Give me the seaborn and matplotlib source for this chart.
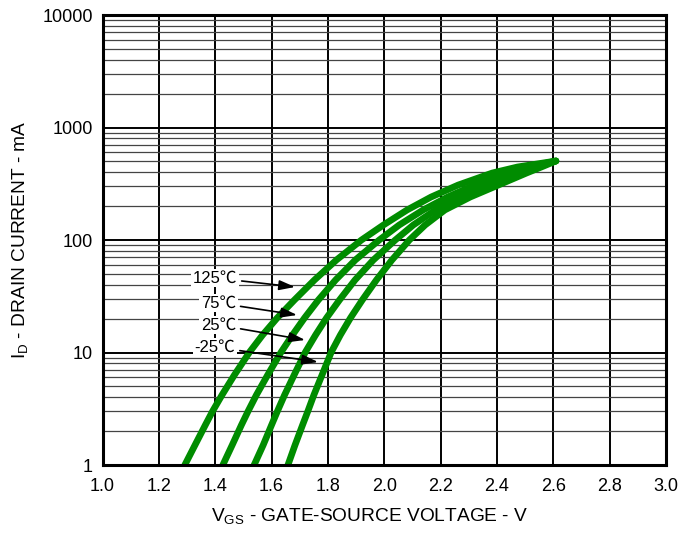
import numpy as np
import pandas as pd
import matplotlib
matplotlib.use("Agg")
import matplotlib.pyplot as plt
import seaborn as sns
from matplotlib.ticker import FixedLocator, LogLocator, NullFormatter

# ---- data ----
temps = ["125℃", "75℃", "25℃", "-25℃"]
id_ma = [1, 1.5, 2.27, 3.02, 4.19, 6.31, 10.1, 14.3, 20.3, 29.3, 44.1, 66.4, 100, 136, 185, 241, 308, 394, 446, 504]
vgs_125 = [1.292, 1.328, 1.365, 1.391, 1.424, 1.468, 1.522, 1.568, 1.620, 1.681, 1.752, 1.830, 1.919,
           1.997, 2.081, 2.166, 2.262, 2.383, 2.473, 2.609]
vgs_75 = [1.427, 1.460, 1.493, 1.517, 1.546, 1.586, 1.634, 1.674, 1.717, 1.766, 1.827, 1.897, 1.982,
          2.053, 2.138, 2.225, 2.320, 2.430, 2.510, 2.609]
vgs_25 = [1.538, 1.570, 1.600, 1.621, 1.646, 1.680, 1.720, 1.756, 1.795, 1.841, 1.896, 1.961, 2.039,
          2.103, 2.182, 2.265, 2.358, 2.462, 2.532, 2.609]
vgs_m25 = [1.658, 1.683, 1.710, 1.729, 1.750, 1.779, 1.812, 1.844, 1.880, 1.922, 1.972, 2.027, 2.089,
           2.145, 2.215, 2.305, 2.405, 2.505, 2.558, 2.609]
x_ticks = [1.0, 1.2, 1.4, 1.6, 1.8, 2.0, 2.2, 2.4, 2.6, 2.8, 3.0]
x_tick_labels = ["1.0", "1.2", "1.4", "1.6", "1.8", "2.0", "2.2", "2.4", "2.6", "2.8", "3.0"]
y_ticks = [1, 10, 100, 1000, 10000]
y_tick_labels = ["1", "10", "100", "1000", "10000"]

series = [vgs_125, vgs_75, vgs_25, vgs_m25]
df = pd.concat(
    [pd.DataFrame({"vgs": v, "id": id_ma, "temp": t}) for v, t in zip(series, temps)],
    ignore_index=True,
)

sns.set_theme(style="white")
plt.rcParams["font.family"] = ["Liberation Sans", "Noto Sans CJK SC", "DejaVu Sans"]
plt.rcParams["mathtext.fontset"] = "custom"
plt.rcParams["mathtext.rm"] = "Liberation Sans"
plt.rcParams["mathtext.it"] = "Liberation Sans"

fig = plt.figure(figsize=(6.96, 5.34), dpi=100)
ax = fig.add_axes([0.1473, 0.1292, 0.8097, 0.8427])
ax.set_yscale("log")
ax.set_xlim(1.0, 3.0)
ax.set_ylim(1, 10000)

# grid
ax.xaxis.set_major_locator(FixedLocator(x_ticks))
ax.yaxis.set_major_locator(FixedLocator(y_ticks))
ax.yaxis.set_minor_locator(LogLocator(base=10, subs=np.arange(2, 10)))
ax.yaxis.set_minor_formatter(NullFormatter())
ax.grid(True, which="major", axis="both", color="black", lw=1.4)
ax.grid(True, which="minor", axis="y", color="#444444", lw=0.9)
ax.set_axisbelow(True)

sns.lineplot(data=df, x="vgs", y="id", hue="temp", hue_order=temps, units="temp",
             palette=["#008c00"] * 4, estimator=None, sort=False,
             lw=4.8, legend=False, ax=ax, solid_capstyle="round", solid_joinstyle="round")

ax.set_xticks(x_ticks)
ax.set_xticklabels(x_tick_labels, fontsize=13)
ax.set_yticks(y_ticks)
ax.set_yticklabels(y_tick_labels, fontsize=13)
ax.tick_params(axis="x", which="both", length=0, pad=9, colors="black")
ax.tick_params(axis="y", which="both", length=0, pad=7, colors="black")

ax.set_xlabel(r"V$_\mathregular{GS}$ - GATE-SOURCE VOLTAGE - V", fontsize=13.8, color="black")
ax.xaxis.set_label_coords(0.474, -0.092)
ax.set_ylabel(r"I$_\mathregular{D}$ - DRAIN CURRENT - mA", fontsize=13.8, labelpad=9, color="black")

for sp in ax.spines.values():
    sp.set_visible(True)
    sp.set_color("black")
    sp.set_linewidth(2.2)

# annotations (axes-fraction positions)
label_pos = [(0.1996, 0.4156), (0.2059, 0.3600), (0.2059, 0.3111), (0.1996, 0.2622)]
tip_pos = [(0.3416, 0.3956), (0.3452, 0.3333), (0.3594, 0.2778), (0.3824, 0.2289)]
for t, lp, tp in zip(temps, label_pos, tip_pos):
    ax.annotate(t, xy=tp, xycoords="axes fraction", xytext=lp, textcoords="axes fraction",
                ha="center", va="center", fontsize=12, color="black",
                bbox=dict(boxstyle="square,pad=0.1", fc="white", ec="none"),
                arrowprops=dict(arrowstyle="-|>,head_length=0.8,head_width=0.25",
                                color="black", lw=1.2, shrinkA=2, shrinkB=0))

fig.savefig("out.png", dpi=100)
